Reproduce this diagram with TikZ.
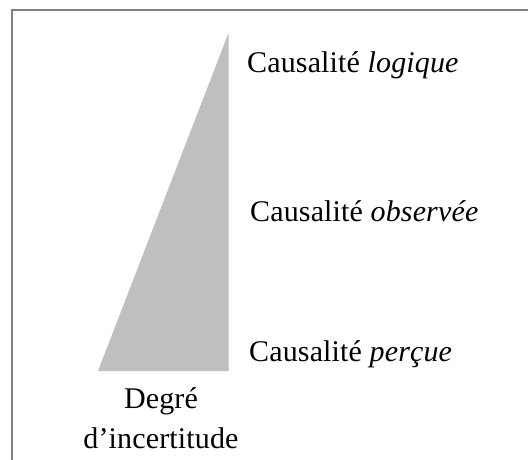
\documentclass[tikz,border=0pt]{standalone}
\usepackage{fontspec}
\setmainfont{Liberation Serif}[LetterSpace=0.5]
\begin{document}
\begin{tikzpicture}[x=1pt,y=-1pt,
  label/.style={inner sep=0pt, anchor=base west, font=\fontsize{30}{40}\selectfont},
  wedge/.style={fill=black!25, draw=none},
  frame/.style={draw=black!50, line width=2pt}]
  \useasboundingbox (0,0) rectangle (528,459);
  \clip (0,0) rectangle (528,459);
  % outer frame, running past the right and bottom edges
  \draw[frame] (11.5,10) rectangle (560,490);
  % uncertainty wedge
  \fill[wedge] (98,371) -- (228.5,371) -- (228.5,33) -- cycle;
  % levels of causality
  \node[label] (logique) at (247,72) {Causalité \textit{logique}};
  \node[label] (observee) at (250,221.5) {Causalité \textit{observée}};
  \node[label] (percue) at (249,361.5) {Causalité \textit{perçue}};
  % axis caption (anchored on its last line)
  \node[label, anchor=base, align=center] (degre) at (161,448) {Degré\\d’incertitude};
\end{tikzpicture}
\end{document}
